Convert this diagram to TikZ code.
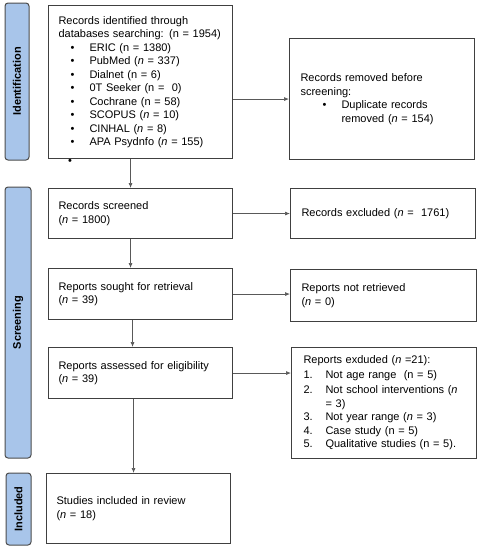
\documentclass[tikz,border=0pt]{standalone}
\usepackage{fontspec}
\setmainfont{Liberation Sans}
\usetikzlibrary{arrows.meta}

\definecolor{phasecol}{HTML}{A8C5EA}
\newcommand{\dbline}[1]{\hspace*{12pt}\makebox[19pt][l]{\textbullet}#1}
\newcommand{\numline}[2]{\makebox[22pt][l]{#1}#2}

\tikzset{
  prbox/.style={draw=black!75, line width=1.1pt, anchor=north west, align=left,
    inner xsep=10pt, font=\fontsize{11}{13.5}\selectfont},
  phase/.style={draw=black!70, fill=phasecol, rounded corners=3pt, line width=1pt,
    rotate=90, inner sep=0pt, font=\fontsize{11}{13}\selectfont\bfseries},
  flow/.style={draw=black!65, line width=0.7pt, -{Latex[length=5pt,width=4pt]}}
}

\begin{document}
\begin{tikzpicture}[x=1pt, y=-1pt]
\useasboundingbox (0,0) rectangle (480,550);

% phases
\node[phase, minimum width=157pt, minimum height=24pt] (phid) at (17,81.5) {Identification};
\node[phase, minimum width=271pt, minimum height=26pt] (phscr) at (18,322.5) {Screening};
\node[phase, minimum width=72pt, minimum height=25pt] (phinc) at (18.5,509) {Included};

% main column
\node[prbox, text width=164pt, minimum height=153pt] (ident) at (48,5) {Records identified through\\
  databases searching: (n = 1954)\\
  \dbline{ERIC (n = 1380)}\\
  \dbline{PubMed (\textit{n} = 337)}\\
  \dbline{Dialnet (n = 6)}\\
  \dbline{0T Seeker (n = ~0)}\\
  \dbline{Cochrane (n = 58)}\\
  \dbline{SCOPUS (\textit{n} = 10)}\\
  \dbline{CINHAL (\textit{n} = 8)}\\
  \dbline{APA Psydnfo (\textit{n} = 155)}};
\node[font=\fontsize{11}{13.5}\selectfont, inner sep=0pt] (strayb) at (70,162) {\textbullet};
\node[prbox, text width=164pt, minimum height=50pt] (screened) at (48,188) {Records screened\\(\textit{n} = 1800)};
\node[prbox, text width=164pt, minimum height=51pt] (sought) at (48,268) {Reports sought for retrieval\\(\textit{n} = 39)};
\node[prbox, text width=164pt, minimum height=51pt] (assess) at (48,347) {Reports assessed for eligibility\\(\textit{n} = 39)};
\node[prbox, text width=164pt, minimum height=70pt] (incl) at (46,473) {Studies included in review\\(\textit{n} = 18)};

% side column
\node[prbox, inner xsep=11pt, text width=163pt, minimum height=121pt] (removed) at (289,38) {Records removed before\\
  screening:\\
  \hspace*{22pt}\makebox[19pt][l]{\textbullet}Duplicate records\\
  \hspace*{41pt}removed (\textit{n} = 154)};
\node[prbox, inner xsep=11pt, text width=163pt, minimum height=50pt] (excluded) at (290,188) {Records excluded (\textit{n} = ~1761)};
\node[prbox, inner xsep=11pt, text width=164pt, minimum height=52pt] (notret) at (290,269) {Reports not retrieved\\(\textit{n} = 0)};
\node[prbox, inner xsep=12pt, text width=161pt, minimum height=111pt] (exclrep) at (291,347) {Reports exduded (\textit{n} =21):\\[1pt]
  \numline{1.}{Not age range ~(n = 5)}\\[2pt]
  \numline{2.}{Not school interventions (\textit{n}}\\
  \hspace*{22pt}= 3)\\
  \numline{3.}{Not year range (\textit{n} = 3)}\\
  \numline{4.}{Case study (n = 5)}\\
  \numline{5.}{Qualitative studies (n = 5).}};

% connectors
\draw[flow] ([xshift=-10pt]ident.south) -- ([xshift=-10pt]screened.north);
\draw[flow] ([xshift=-10pt]screened.south) -- ([xshift=-10pt]sought.north);
\draw[flow] ([xshift=-8pt]sought.south) -- ([xshift=-8pt]assess.north);
\draw[flow] ([xshift=-7pt]assess.south) -- ([xshift=-7pt]assess.south |- incl.north);
\draw[flow] (ident.east |- removed.west) -- (removed.west);
\draw[flow] (screened.east) -- (excluded.west);
\draw[flow] (sought.east) -- (sought.east -| notret.west);
\draw[flow] (assess.east) -- (assess.east -| exclrep.west);
\end{tikzpicture}
\end{document}
